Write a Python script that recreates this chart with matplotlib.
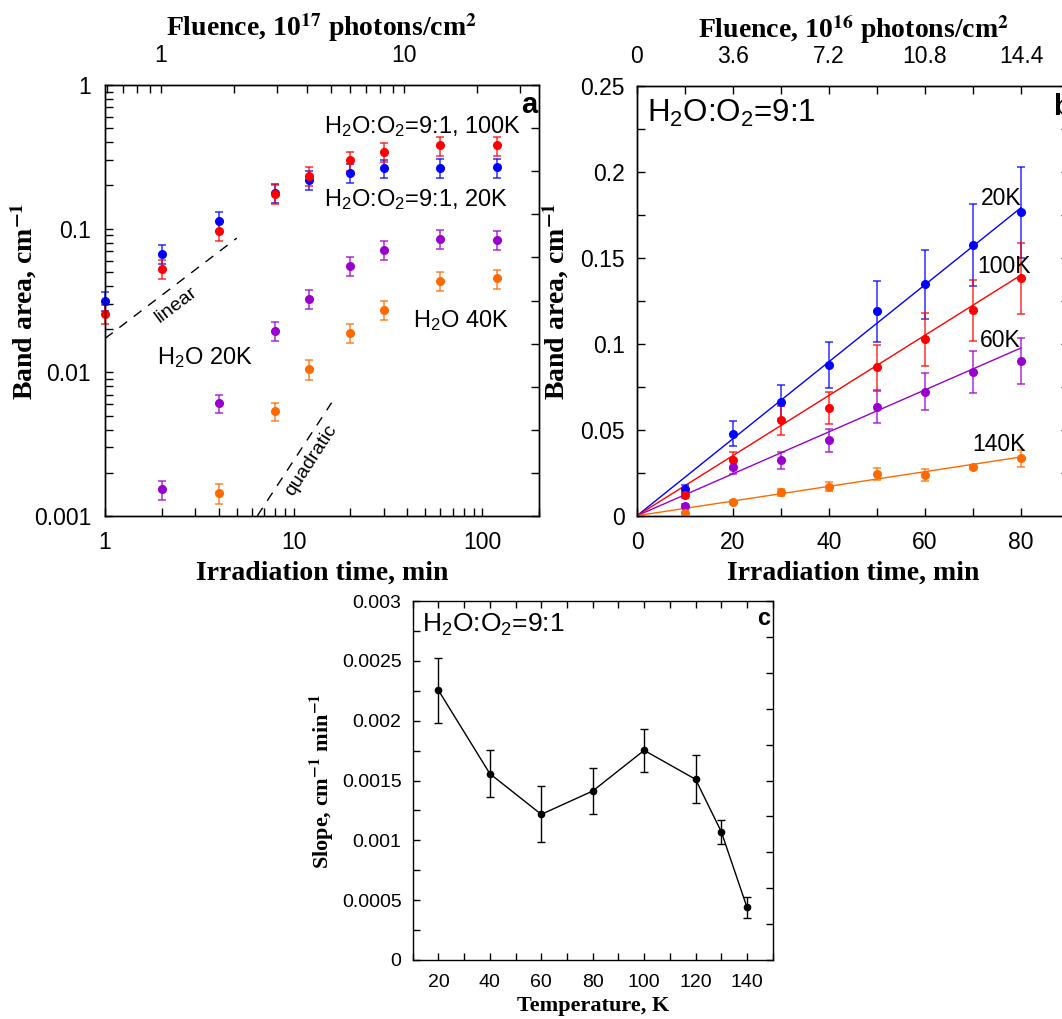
import numpy as np
import matplotlib
matplotlib.use('Agg')
import matplotlib.pyplot as plt
from matplotlib.ticker import FixedLocator, NullFormatter, FixedFormatter, MultipleLocator, FuncFormatter

# ---------------- data ----------------
# panel a (log-log), irradiation time in min
t_a_mix = [1, 2, 4, 8, 12, 20, 30, 60, 120]
a_mix20 = [0.0314, 0.0667, 0.113, 0.178, 0.218, 0.246, 0.263, 0.265, 0.267]
a_mix20_err = [0.0047, 0.010, 0.017, 0.027, 0.033, 0.037, 0.039, 0.040, 0.040]
a_mix100 = [0.0255, 0.0528, 0.0971, 0.175, 0.232, 0.299, 0.343, 0.380, 0.380]
a_mix100_err = [0.0038, 0.008, 0.015, 0.026, 0.035, 0.045, 0.051, 0.057, 0.057]
t_a_w20 = [2, 4, 8, 12, 20, 30, 60, 120]
a_w20 = [0.00153, 0.00608, 0.0194, 0.0326, 0.0554, 0.0716, 0.0849, 0.0831]
a_w20_err = [0.00023, 0.0009, 0.0029, 0.0049, 0.0083, 0.0107, 0.0127, 0.0125]
t_a_w40 = [4, 8, 12, 20, 30, 60, 120]
a_w40 = [0.00144, 0.00535, 0.0105, 0.0188, 0.0273, 0.0431, 0.0450]
a_w40_err = [0.00022, 0.0008, 0.0016, 0.0028, 0.0041, 0.0065, 0.0068]
linear_t = [1, 5]
linear_coef = 0.0172
quad_t = [6.42, 15.9]
quad_coef = 2.43e-5

# panel b (linear), H2O:O2 = 9:1
t_b = [10, 20, 30, 40, 50, 60, 70, 80]
b_20 = [0.0155, 0.0477, 0.0662, 0.0877, 0.1189, 0.1346, 0.1575, 0.1765]
b_20_err = [0.0023, 0.0072, 0.0099, 0.0132, 0.0178, 0.0202, 0.0236, 0.0265]
b_100 = [0.0120, 0.0322, 0.0555, 0.0628, 0.0863, 0.1026, 0.1195, 0.1381]
b_100_err = [0.0018, 0.0048, 0.0083, 0.0094, 0.0129, 0.0154, 0.0179, 0.0207]
b_60 = [0.0058, 0.0285, 0.0322, 0.0439, 0.0632, 0.0722, 0.0836, 0.0900]
b_60_err = [0.0009, 0.0043, 0.0048, 0.0066, 0.0095, 0.0108, 0.0125, 0.0135]
b_140 = [0.0017, 0.0078, 0.0136, 0.0169, 0.0241, 0.0235, 0.0283, 0.0334]
b_140_err = [0.0003, 0.0012, 0.0020, 0.0025, 0.0036, 0.0035, 0.0010, 0.0050]
fit_slopes = {'20K': 0.00224, '100K': 0.00175, '60K': 0.00122, '140K': 0.000427}
fit_t = [0, 80]

# panel c
temps = [20, 40, 60, 80, 100, 120, 130, 140]
slopes = [0.002254, 0.001557, 0.001217, 0.001412, 0.001752, 0.001510, 0.001072, 0.000440]
slopes_err = [0.00027, 0.000195, 0.000234, 0.000195, 0.00018, 0.0002, 0.0001, 0.000087]

BLUE, RED, PURPLE, ORANGE = '#0000ff', '#ff0000', '#9900cc', '#ff6a00'

# ---------------- style ----------------
plt.rcParams['font.family'] = ['Liberation Sans', 'DejaVu Sans']
plt.rcParams['mathtext.fontset'] = 'custom'
plt.rcParams['mathtext.rm'] = 'Liberation Sans'
plt.rcParams['mathtext.it'] = 'Liberation Sans:italic'
plt.rcParams['mathtext.bf'] = 'Liberation Sans:bold'
plt.rcParams['axes.linewidth'] = 1.0

W, H = 1062, 1019
fig = plt.figure(figsize=(W / 100, H / 100), dpi=100)


def fx(x):
    return x / W


def fy(y):
    return 1 - y / H


def box(l, t, r, b):
    return [l / W, 1 - b / H, (r - l) / W, (b - t) / H]


LAB = dict(family='Liberation Serif', weight='bold', math_fontfamily='stix')


def right_ticks(ax, length):
    tw = ax.twinx()
    tw.set_ylim(0, 1)
    tw.yaxis.set_major_locator(FixedLocator(np.linspace(0, 1, 11)))
    tw.tick_params(axis='y', direction='in', length=length, width=1, labelright=False)
    for s in tw.spines.values():
        s.set_visible(False)
    return tw


def eb(ax, x, y, e, c, ms=5.5, clip=True):
    m, caps, bars = ax.errorbar(x, y, yerr=e, fmt='o', color=c, ms=ms, capsize=3,
                                elinewidth=1.2, capthick=1.2, zorder=3, clip_on=clip)
    for cl in caps:
        cl.set_alpha(0.75)
        cl.set_clip_on(clip)
    for b in bars:
        b.set_alpha(0.75)
        b.set_clip_on(clip)
    m.set_clip_on(clip)


# ================= panel a =================
axa = fig.add_axes(box(105, 85, 539, 516))
axa.set_xscale('log')
axa.set_yscale('log')
axa.set_xlim(1, 200)
axa.set_ylim(0.001, 1)
axa.xaxis.set_major_locator(FixedLocator([1, 10, 100]))
axa.xaxis.set_major_formatter(FixedFormatter(['1', '10', '100']))
axa.xaxis.set_minor_locator(FixedLocator([k * d for d in (1, 10, 100) for k in range(2, 10)]))
axa.xaxis.set_minor_formatter(NullFormatter())
axa.yaxis.set_major_locator(FixedLocator([0.001, 0.01, 0.1, 1]))
axa.yaxis.set_major_formatter(FixedFormatter(['0.001', '0.01', '0.1', '1']))
axa.yaxis.set_minor_locator(FixedLocator([k * d for d in (0.001, 0.01, 0.1) for k in range(2, 10)]))
axa.yaxis.set_minor_formatter(NullFormatter())
axa.tick_params(which='both', direction='in', length=6, width=1, top=False, right=False, labelsize=16.5)
axa.tick_params(axis='y', pad=10)
axa.tick_params(axis='x', pad=11)

eb(axa, t_a_mix, a_mix20, a_mix20_err, BLUE, clip=False)
eb(axa, t_a_mix, a_mix100, a_mix100_err, RED, clip=False)
eb(axa, t_a_w20, a_w20, a_w20_err, PURPLE, clip=False)
eb(axa, t_a_w40, a_w40, a_w40_err, ORANGE, clip=False)

lt = np.array(linear_t, dtype=float)
axa.plot(lt, linear_coef * lt, color='black', lw=1, ls=(0, (7, 6)))
qt = np.array(quad_t, dtype=float)
axa.plot(qt, quad_coef * qt ** 2, color='black', lw=1, ls=(0, (7, 6)))

topa = axa.twiny()
topa.set_xscale('log')
topa.set_xlim(0.59, 36)
topa.xaxis.set_major_locator(FixedLocator([1, 10]))
topa.xaxis.set_major_formatter(FixedFormatter(['1', '10']))
topa.xaxis.set_minor_locator(FixedLocator([0.6, 0.7, 0.8, 0.9, 2, 3, 4, 5, 6, 7, 8, 9, 20, 30]))
topa.xaxis.set_minor_formatter(NullFormatter())
topa.tick_params(axis='x', which='both', direction='in', length=6, width=1, labelsize=16.5, pad=13)
right_ticks(axa, 6)

# annotations panel a
fig.text(fx(324), fy(133.3), 'H$_2$O:O$_2$=9:1, 100K', fontsize=17, ha='left', va='baseline')
fig.text(fx(324), fy(205.7), 'H$_2$O:O$_2$=9:1, 20K', fontsize=17, ha='left', va='baseline')
fig.text(fx(413), fy(327.3), 'H$_2$O 40K', fontsize=17, ha='left', va='baseline')
fig.text(fx(157), fy(364), 'H$_2$O 20K', fontsize=17, ha='left', va='baseline')
fig.text(fx(537), fy(113.3), 'a', fontsize=21, weight='bold', ha='right', va='baseline')
fig.text(fx(176), fy(305), 'linear', fontsize=14, rotation=37, rotation_mode='anchor',
         ha='center', va='center')
fig.text(fx(311), fy(460), 'quadratic', fontsize=14, rotation=57, rotation_mode='anchor',
         ha='center', va='center')

fig.text(fx(24), fy(301), 'Band area, cm$^{\\mathbf{-1}}$', rotation=90, ha='center', va='center',
         fontsize=20, **LAB)
fig.text(fx(322), fy(573), 'Irradiation time, min', ha='center', va='center', fontsize=20, **LAB)
fig.text(fx(322), fy(28), 'Fluence, 10$^{\\mathbf{17}}$ photons/cm$^{\\mathbf{2}}$', ha='center',
         va='center', fontsize=20, **LAB)

# ================= panel b =================
axb = fig.add_axes(box(637, 86, 1069, 515.7))
axb.set_xlim(0, 90)
axb.set_ylim(0, 0.25)
axb.xaxis.set_major_locator(FixedLocator([0, 20, 40, 60, 80]))
axb.xaxis.set_minor_locator(MultipleLocator(10))
axb.yaxis.set_major_locator(MultipleLocator(0.05))
axb.yaxis.set_minor_locator(MultipleLocator(0.025))
axb.yaxis.set_major_formatter(FuncFormatter(lambda v, p: '%g' % round(v, 4)))
axb.tick_params(which='both', direction='in', length=6, width=1, top=False, right=False, labelsize=16.5)
axb.tick_params(axis='y', pad=9)
axb.tick_params(axis='x', pad=11)

ft = np.array(fit_t, dtype=float)
for key, c in (('20K', BLUE), ('100K', RED), ('60K', PURPLE), ('140K', ORANGE)):
    axb.plot(ft, fit_slopes[key] * ft, color=c, lw=1, zorder=2)
eb(axb, t_b, b_20, b_20_err, BLUE)
eb(axb, t_b, b_100, b_100_err, RED)
eb(axb, t_b, b_60, b_60_err, PURPLE)
eb(axb, t_b, b_140, b_140_err, ORANGE)

topb = axb.twiny()
topb.set_xlim(0, 16.2)
topb.xaxis.set_major_locator(FixedLocator([0, 3.6, 7.2, 10.8, 14.4]))
topb.xaxis.set_major_formatter(FixedFormatter(['0', '3.6', '7.2', '10.8', '14.4']))
topb.xaxis.set_minor_locator(MultipleLocator(1.8))
topb.tick_params(axis='x', which='both', direction='in', length=6, width=1, labelsize=16.5, pad=13)
right_ticks(axb, 6)

fig.text(fx(647), fy(121.7), 'H$_2$O:O$_2$=9:1', fontsize=22.5, ha='left', va='baseline')
fig.text(fx(981), fy(205), '20K', fontsize=16.5, ha='left', va='baseline')
fig.text(fx(977), fy(273.3), '100K', fontsize=16.5, ha='left', va='baseline')
fig.text(fx(980), fy(346.7), '60K', fontsize=16.5, ha='left', va='baseline')
fig.text(fx(972), fy(451), '140K', fontsize=16.5, ha='left', va='baseline')
fig.text(fx(1053), fy(115), 'b', fontsize=21, weight='bold', ha='left', va='baseline')

fig.text(fx(556), fy(301), 'Band area, cm$^{\\mathbf{-1}}$', rotation=90, ha='center', va='center',
         fontsize=20, **LAB)
fig.text(fx(853), fy(573), 'Irradiation time, min', ha='center', va='center', fontsize=20, **LAB)
fig.text(fx(854), fy(29), 'Fluence, 10$^{\\mathbf{16}}$ photons/cm$^{\\mathbf{2}}$', ha='center',
         va='center', fontsize=20, **LAB)

# ================= panel c =================
axc = fig.add_axes(box(412.7, 601, 772.7, 960))
axc.set_xlim(10, 150)
axc.set_ylim(0, 0.003)
axc.xaxis.set_major_locator(FixedLocator([20, 40, 60, 80, 100, 120, 140]))
axc.xaxis.set_minor_locator(MultipleLocator(10))
axc.yaxis.set_major_locator(MultipleLocator(0.0005))
axc.yaxis.set_minor_locator(MultipleLocator(0.00025))
axc.yaxis.set_major_formatter(FuncFormatter(lambda v, p: '%g' % round(v, 6)))
axc.tick_params(which='both', direction='in', length=5, width=1, top=True, right=False, labelsize=14)
axc.tick_params(axis='y', pad=8)
axc.tick_params(axis='x', pad=10)
axc.errorbar(temps, slopes, yerr=slopes_err, fmt='-o', color='black', ms=4.5, lw=1,
             capsize=3, elinewidth=1, capthick=1)
right_ticks(axc, 5)

fig.text(fx(422), fy(631.7), 'H$_2$O:O$_2$=9:1', fontsize=19, ha='left', va='baseline')
fig.text(fx(770), fy(625), 'c', fontsize=17, weight='bold', ha='right', va='baseline')
fig.text(fx(322), fy(781), 'Slope, cm$^{\\mathbf{-1}}$ min$^{\\mathbf{-1}}$', rotation=90, ha='center',
         va='center', fontsize=16, **LAB)
fig.text(fx(593), fy(1006), 'Temperature, K', ha='center', va='center', fontsize=16, **LAB)

fig.savefig('out.png', dpi=100)
